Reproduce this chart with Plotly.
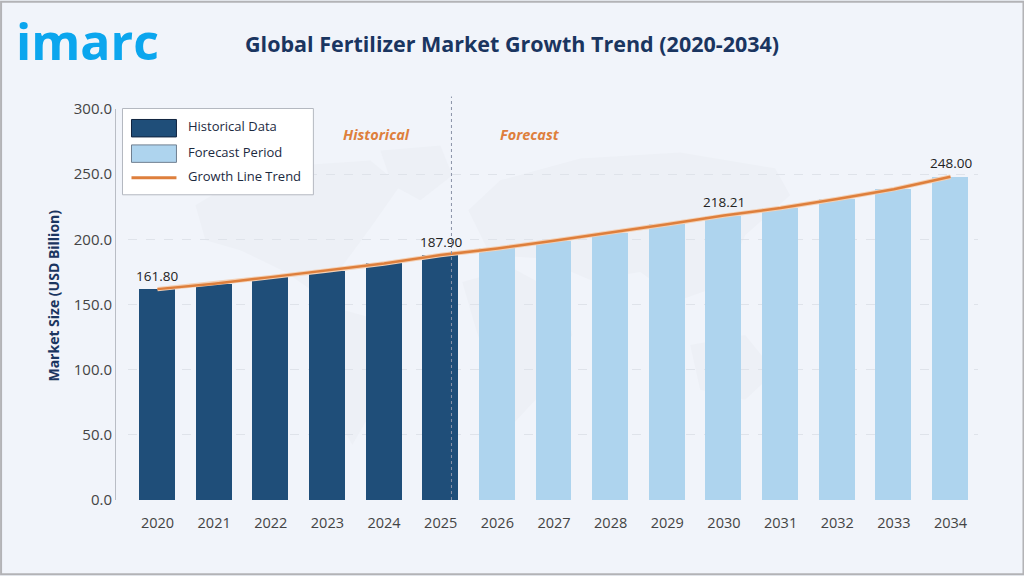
import plotly.graph_objects as go

years = list(range(2020, 2035))
market_size = [161.80, 166.0, 171.0, 176.0, 181.5, 187.90, 193.0, 199.0, 205.0, 211.5, 218.21, 224.0, 231.0, 238.5, 248.00]
y_ticks = [0, 50, 100, 150, 200, 250, 300]
labelled_years = [2020, 2025, 2030, 2034]
legend_items = ["Historical Data", "Forecast Period", "Growth Line Trend"]

DARK = "#1f4e79"
LIGHT = "#aed4ee"
ORANGE = "#de7f3c"
NAVY = "#1a3560"
FONT = "Open Sans"
W, H = 1024, 576
L, R, T, B = 114.5, 978, 108.5, 500.5

# faint world map behind the bars, rough outlines in page pixels
map_blobs = [
    [(195, 205), (240, 178), (300, 165), (370, 160), (400, 185), (372, 225), (345, 262), (318, 295), (285, 272), (240, 250), (205, 240)],
    [(325, 305), (372, 318), (400, 350), (378, 400), (352, 445), (338, 420), (328, 360)],
    [(380, 150), (440, 145), (452, 175), (420, 200), (392, 185)],
    [(462, 282), (512, 268), (562, 295), (572, 335), (540, 395), (512, 425), (494, 385), (476, 330)],
    [(468, 210), (500, 180), (580, 158), (680, 152), (775, 168), (790, 195), (745, 235), (722, 285), (680, 300), (640, 272), (590, 280), (540, 258), (490, 255)],
    [(690, 345), (745, 335), (775, 372), (745, 400), (700, 390)],
]


def px(x):
    return (x - L) / (R - L)


def py(y):
    return (B - y) / (B - T)


def note(x, y, text, size, color, anchor="center", family=FONT, weight=None):
    fig.add_annotation(xref="paper", yref="paper", x=px(x), y=py(y), text=text, showarrow=False,
                       xanchor=anchor, yanchor="middle", font=dict(family=family, size=size, color=color, weight=weight))


bar_colors = [DARK if y <= 2025 else LIGHT for y in years]

fig = go.Figure()
fig.add_trace(go.Bar(x=years, y=market_size, width=0.635, marker=dict(color=bar_colors, line=dict(width=0)), showlegend=False))
fig.add_trace(go.Scatter(x=years, y=market_size, mode="lines", line=dict(color="#f4cfb2", width=4.5), showlegend=False))
fig.add_trace(go.Scatter(x=years, y=market_size, mode="lines", line=dict(color=ORANGE, width=2.5), showlegend=False))

# value labels only on a few bars
for yr in labelled_years:
    fig.add_annotation(x=yr, y=market_size[years.index(yr)], text=f"{market_size[years.index(yr)]:.2f}", showarrow=False,
                       yshift=13.5, font=dict(family=FONT, size=13.5, color="#222222"))

shapes = []
for blob in map_blobs:
    path = "M" + " L".join(f"{px(x):.4f},{py(y):.4f}" for x, y in blob) + " Z"
    shapes.append(dict(type="path", path=path, xref="paper", yref="paper", layer="below",
                       fillcolor="#edf0f6", line=dict(width=0)))
# split between history and forecast
shapes.append(dict(type="line", xref="x", yref="paper", x0=2025.19, x1=2025.19, y0=0, y1=py(96),
                   line=dict(color="#8a93a8", width=1, dash="dot")))
# legend box
shapes.append(dict(type="rect", xref="paper", yref="paper", x0=px(122), x1=px(313), y0=py(194.5), y1=py(108),
                   fillcolor="white", line=dict(color="#b4b8c0", width=1)))
shapes.append(dict(type="rect", xref="paper", yref="paper", x0=px(131), x1=px(176), y0=py(136.5), y1=py(119),
                   fillcolor=DARK, line=dict(color="#10233f", width=1)))
shapes.append(dict(type="rect", xref="paper", yref="paper", x0=px(131), x1=px(176), y0=py(162), y1=py(144.5),
                   fillcolor=LIGHT, line=dict(color="#6f7f90", width=1)))
shapes.append(dict(type="line", xref="paper", yref="paper", x0=px(131), x1=px(176), y0=py(177.5), y1=py(177.5),
                   line=dict(color=ORANGE, width=3)))
# page frame
shapes.append(dict(type="rect", xref="paper", yref="paper", x0=px(0.5), x1=px(1023.5), y0=py(575), y1=py(1),
                   line=dict(color="#b3b3b6", width=2)))
fig.update_layout(shapes=shapes)

for text, ypos in zip(legend_items, [126, 151.5, 176]):
    note(185.5, ypos, text, 13, "#1c2a3f", anchor="left")

note(376, 134.5, "<b><i>Historical</i></b>", 14.5, ORANGE)
note(529.5, 134.5, "<b><i>Forecast</i></b>", 14.5, ORANGE)
note(512, 43, "<b>Global Fertilizer Market Growth Trend (2020-2034)</b>", 21.5, NAVY)
note(13, 40, "imarc", 50, "#0ba6ee", anchor="left", weight=700)
fig.add_annotation(xref="paper", yref="paper", x=px(52.5), y=py(295.5), text="<b>Market Size (USD Billion)</b>", showarrow=False,
                   textangle=-90, xanchor="center", yanchor="middle", font=dict(family=FONT, size=14, color=NAVY))

fig.update_layout(
    width=W,
    height=H,
    paper_bgcolor="#f1f4fa",
    plot_bgcolor="rgba(0,0,0,0)",
    margin=dict(l=L, r=W - R, t=T, b=H - B, pad=0),
    showlegend=False,
    bargap=0,
    xaxis=dict(domain=[px(128), 1], range=[2020 - (157 - 128) / 56.68, 2034 + (R - 950.5) / 56.68],
               tickvals=years, tickfont=dict(family=FONT, size=14.5, color="#444444"),
               showgrid=False, zeroline=False, showline=False, ticks="", ticklabelstandoff=12),
    yaxis=dict(anchor="free", position=0, range=[0, 300], tickvals=y_ticks, tickformat=".1f",
               tickfont=dict(family=FONT, size=15, color="#444444"),
               showline=True, linecolor="#b9bdc5", linewidth=1, ticks="",
               showgrid=True, gridcolor="#dfe3ea", griddash="dash", gridwidth=1, zeroline=False),
)

fig.write_html("out.html", config={"displayModeBar": False},
               post_script="document.body.style.margin='0';document.body.style.overflow='hidden';")
